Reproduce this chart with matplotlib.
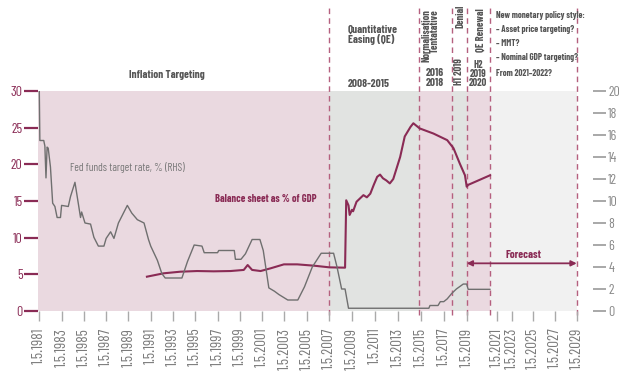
import numpy as np
import matplotlib
matplotlib.use("Agg")
import matplotlib.pyplot as plt
from matplotlib import font_manager

# ---------------- data ----------------
fed_years = [1981.0, 1981.05, 1981.4, 1981.5, 1981.6, 1981.7, 1981.8, 1982.0, 1982.2, 1982.4,
             1982.6, 1982.9, 1983.0, 1983.6, 1983.8, 1984.2, 1984.7, 1984.8, 1985.1, 1985.6,
             1985.9, 1986.3, 1986.8, 1987.0, 1987.4, 1987.7, 1988.1, 1988.9, 1989.3, 1989.8,
             1990.4, 1990.8, 1991.0, 1991.6, 1992.0, 1992.3, 1993.8, 1994.3, 1994.9, 1995.6,
             1995.8, 1997.0, 1997.1, 1998.5, 1998.6, 1999.1, 1999.5, 2000.1, 2000.8, 2001.1,
             2001.6, 2002.1, 2002.5, 2003.3, 2004.2, 2004.8, 2005.5, 2006.3, 2007.4, 2007.7,
             2008.1, 2008.4, 2008.7, 2015.7, 2015.8, 2016.5, 2016.7, 2017.0, 2017.3, 2017.7,
             2018.1, 2018.7, 2019.0, 2019.05, 2019.1, 2020.55]
fed_rate = [20.0, 15.5, 15.5, 15.0, 12.1, 14.9, 14.8, 13.1, 9.8, 9.5,
            8.5, 8.5, 9.6, 9.5, 10.4, 11.7, 8.5, 9.0, 8.0, 7.9,
            6.7, 5.9, 5.9, 6.6, 7.2, 6.6, 8.0, 9.6, 8.9, 8.3,
            8.0, 6.5, 5.9, 4.6, 3.4, 3.0, 3.0, 4.5, 6.0, 5.9,
            5.3, 5.3, 5.5, 5.5, 4.7, 4.7, 5.2, 6.5, 6.5, 5.5,
            2.1, 1.8, 1.5, 1.0, 1.0, 2.2, 4.0, 5.25, 5.25, 4.0,
            2.0, 2.0, 0.25, 0.25, 0.5, 0.5, 0.85, 0.85, 1.1, 1.6,
            2.0, 2.45, 2.45, 2.2, 1.97, 1.97]

bs_years = [1990.66, 1992.16, 1993.66, 1995.16, 1996.65, 1998.16, 1999.35, 1999.7, 2000.1, 2000.86,
            2001.76, 2002.95, 2004.15, 2005.65, 2007.05, 2008.4, 2008.5, 2008.7, 2008.8, 2009.0,
            2009.1, 2009.4, 2010.0, 2010.3, 2010.6, 2010.9, 2011.2, 2011.45, 2011.7, 2012.0,
            2012.3, 2012.6, 2013.2, 2013.6, 2014.1, 2014.35, 2014.9, 2016.1, 2017.3, 2017.85,
            2018.4, 2018.85, 2019.0, 2019.1, 2020.55]
bs_pct = [4.68, 5.14, 5.36, 5.45, 5.41, 5.45, 5.6, 6.27, 5.6, 5.45,
          5.82, 6.36, 6.36, 6.18, 5.95, 5.91, 15.1, 14.4, 13.1, 13.8,
          13.6, 14.9, 15.8, 15.5, 16.0, 17.2, 18.3, 18.6, 18.1, 17.8,
          17.4, 18.0, 21.0, 23.8, 25.1, 25.6, 24.9, 24.2, 23.3, 22.2,
          20.1, 18.5, 16.95, 17.2, 18.5]

# regime periods (boundaries, kind of each period)
regime_bounds = [1980.9, 2007.0, 2014.87, 2017.76, 2019.0, 2020.57, 2029.0]
regime_kinds = ["pink", "grey", "pink", "grey", "pink", "light"]

tick_years = list(range(1981, 2030, 2))
tick_labels = [f"1.5.{y}" for y in tick_years]

forecast_start, forecast_end, forecast_level = 2019.0, 2029.0, 6.5

# ---------------- styling ----------------
W, H = 642, 373
MAROON = "#8a2b55"
DASH = "#b5607f"
colors = {"pink": "#ead9e0", "grey": "#e1e3e1", "light": "#f1f1f1"}

avail = {f.name for f in font_manager.fontManager.ttflist}
fam = [f for f in ["Barlow Condensed", "Roboto Condensed", "DejaVu Sans"] if f in avail]
plt.rcParams["font.family"] = fam

# piecewise axis (category-like spacing of the original)
anc_y = [1975.0, 1981.0, 2007.0, 2019.0, 2021.0, 2023.0, 2029.0, 2040.0]
anc_p = [39.3 - 6 * 11.115, 39.3, 329.0, 466.7, 496.7, 511.7, 576.7, 576.7 + 11 * 10.8]

def fwd(x):
    return np.interp(x, anc_y, anc_p)

def inv(p):
    return np.interp(p, anc_p, anc_y)

fig = plt.figure(figsize=(W / 100, H / 100), dpi=100)
L, R, T, B = 38, 593, 91, 311
ax = fig.add_axes([L / W, 1 - B / H, (R - L) / W, (B - T) / H])
ax.set_xscale("function", functions=(fwd, inv))
ax.set_xlim(inv(L), inv(R))
ax.set_ylim(0, 30)
ax.patch.set_visible(False)

for i, k in enumerate(regime_kinds):
    ax.axvspan(regime_bounds[i], regime_bounds[i + 1], color=colors[k], lw=0, zorder=0)

for xb in regime_bounds[1:]:
    ax.axvline(xb, ymin=-0.02, ymax=(B - 7) / (B - T), color=DASH, lw=1.0,
               dashes=(4, 3), clip_on=False, zorder=1)

ax.plot(bs_years, bs_pct, color=MAROON, lw=1.5, zorder=3)

ax2 = ax.twinx()
ax2.set_ylim(0, 20)
ax2.plot(fed_years, fed_rate, color="#6f6f6f", lw=1.0, zorder=3)

# forecast arrow
ax.annotate("", xy=(forecast_end, forecast_level), xytext=(forecast_start, forecast_level),
            arrowprops=dict(arrowstyle="<|-|>", color=MAROON, lw=1.3,
                            mutation_scale=8, shrinkA=0, shrinkB=0), zorder=4)

for a in (ax, ax2):
    for s in a.spines.values():
        s.set_visible(False)

ax.set_xticks(tick_years)
ax.set_xticklabels(tick_labels, rotation=90, fontsize=11, color="#7a7a7a")
ax.tick_params(axis="x", direction="out", length=7, width=1, color="#aaaaaa", pad=5)
ax.xaxis.set_minor_locator(matplotlib.ticker.NullLocator())
ax.set_yticks(range(0, 31, 5))
ax.tick_params(axis="y", direction="out", length=10, width=1.6, color=MAROON,
               labelcolor=MAROON, labelsize=10, pad=1)
ax2.set_yticks(range(0, 21, 2))
ax2.tick_params(axis="y", direction="out", length=9, width=1.2, color="#999999",
                labelcolor="#888888", labelsize=10, pad=2)
ax2.xaxis.set_minor_locator(matplotlib.ticker.NullLocator())

def ftext(x, y, s, **kw):
    fig.text(x / W, 1 - y / H, s, **kw)

b = dict(fontweight="bold", color="#555555")
ftext(167, 75, "Inflation Targeting", ha="center", va="center", fontsize=8, **b)
ftext(348, 35, "Quantitative\nEasing (QE)", ha="left", va="center", fontsize=8, linespacing=0.95, **b)
ftext(348, 84, "2008-2015", ha="left", va="center", fontsize=8, **b)
ftext(426, 9, "Normalisation", rotation=90, ha="center", va="top", fontsize=7.5, **b)
ftext(435, 9, "Tentatative", rotation=90, ha="center", va="top", fontsize=7.5, **b)
ftext(435, 73, "2016", ha="center", va="center", fontsize=8, **b)
ftext(435, 83, "2018", ha="center", va="center", fontsize=8, **b)
ftext(460, 5, "Denial", rotation=90, ha="center", va="top", fontsize=7.5, **b)
ftext(459, 72, "H1 2019", rotation=90, ha="center", va="center", fontsize=7.5, **b)
ftext(481, 8, "QE Renewal", rotation=90, ha="center", va="top", fontsize=7.5, **b)
ftext(478, 65, "H2", ha="center", va="center", fontsize=7.5, **b)
ftext(478, 74, "2019", ha="center", va="center", fontsize=7.5, **b)
ftext(478, 83, "2020", ha="center", va="center", fontsize=7.5, **b)
for yy, s in [(15, "New monetary policy style:"), (29, "\u2013 Asset price targeting?"),
              (43, "\u2013 MMT?"), (58, "\u2013 Nominal GDP targeting?"),
              (74, "From 2021\u20132022?")]:
    ftext(496, yy, s, ha="left", va="center", fontsize=6.5, **b)

ftext(70, 167, "Fed funds target rate, % (RHS)", ha="left", va="center", fontsize=8, color="#777777")
ftext(215, 199, "Balance sheet as % of GDP", ha="left", va="center", fontsize=7.5,
      fontweight="bold", color=MAROON)
ftext(523, 255, "Forecast", ha="center", va="center", fontsize=8, fontweight="bold", color=MAROON)

fig.savefig("out.png", dpi=100)
